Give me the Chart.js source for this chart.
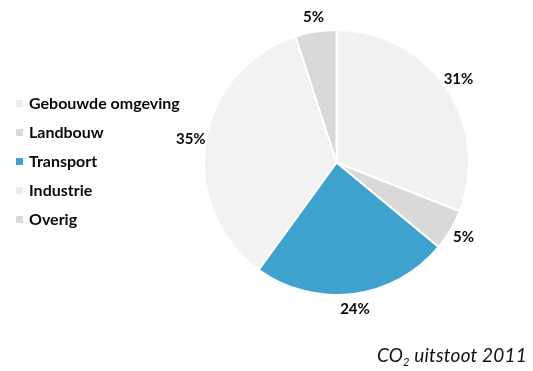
<!DOCTYPE html>
<html>
<head>
<meta charset="utf-8">
<script src="https://cdn.jsdelivr.net/npm/chart.js@4.4.1/dist/chart.umd.min.js"></script>
<style>
  html, body { margin: 0; padding: 0; background: #fff; }
  #wrap { position: relative; width: 533px; height: 371px; }
  #title {
    position: absolute; right: 6px; top: 343px;
    font-family: Lato, "Open Sans", sans-serif; font-style: italic;
    font-size: 19px; color: #111; letter-spacing: 0.2px;
  }
  #title sub { font-size: 11px; vertical-align: -4px; }
</style>
</head>
<body>
<div id="wrap">
  <canvas id="chart1" width="533" height="371"></canvas>
  <div id="title">CO<sub>2</sub> uitstoot 2011</div>
</div>
<script>
// sectoren en aandeel in procenten
const sectors = ['Gebouwde omgeving', 'Landbouw', 'Transport', 'Industrie', 'Overig'];
const shares = [31, 5, 24, 35, 5];
const colors = ['#f1f1f1', '#d9d9d9', '#3fa1cd', '#f2f2f2', '#d9d9d9'];

const FONT = 'Lato, "Open Sans", sans-serif';

// legenda links en percentages buiten de taart
const labelsPlugin = {
  id: 'pctLabels',
  afterDatasetsDraw(chart) {
    const ctx = chart.ctx;
    const meta = chart.getDatasetMeta(0);
    ctx.save();
    ctx.fillStyle = '#0a0a0a';
    ctx.font = 'bold 15px ' + FONT;
    ctx.textAlign = 'center';
    ctx.textBaseline = 'middle';
    meta.data.forEach(function(arc, i) {
      const p = arc.getProps(['x', 'y', 'startAngle', 'endAngle', 'outerRadius'], true);
      const mid = (p.startAngle + p.endAngle) / 2;
      const d = p.outerRadius + 15;
      ctx.fillText(shares[i] + '%', p.x + Math.cos(mid) * d, p.y + Math.sin(mid) * d);
    });

    // legenda
    ctx.textAlign = 'left';
    ctx.font = 'bold 16px ' + FONT;
    sectors.forEach(function(name, i) {
      const y = 103 + i * 29;
      ctx.fillStyle = colors[i] == '#f1f1f1' || colors[i] == '#f2f2f2' ? '#ececec' : colors[i];
      ctx.fillRect(16, y - 3, 7, 7);
      ctx.fillStyle = '#0a0a0a';
      ctx.fillText(name, 29, y + 1);
    });
    ctx.restore();
  }
};

new Chart("chart1", {
  type: "pie",
  data: {
    labels: sectors,
    datasets: [{
      data: shares,
      backgroundColor: colors,
      borderColor: '#ffffff',
      borderWidth: 2
    }]
  },
  options: {
    responsive: false,
    animation: false,
    layout: { padding: { left: 202, right: 62, top: 29, bottom: 75 } },
    plugins: {
      legend: { display: false },
      tooltip: { enabled: false }
    }
  },
  plugins: [labelsPlugin]
});
</script>
</body>
</html>
